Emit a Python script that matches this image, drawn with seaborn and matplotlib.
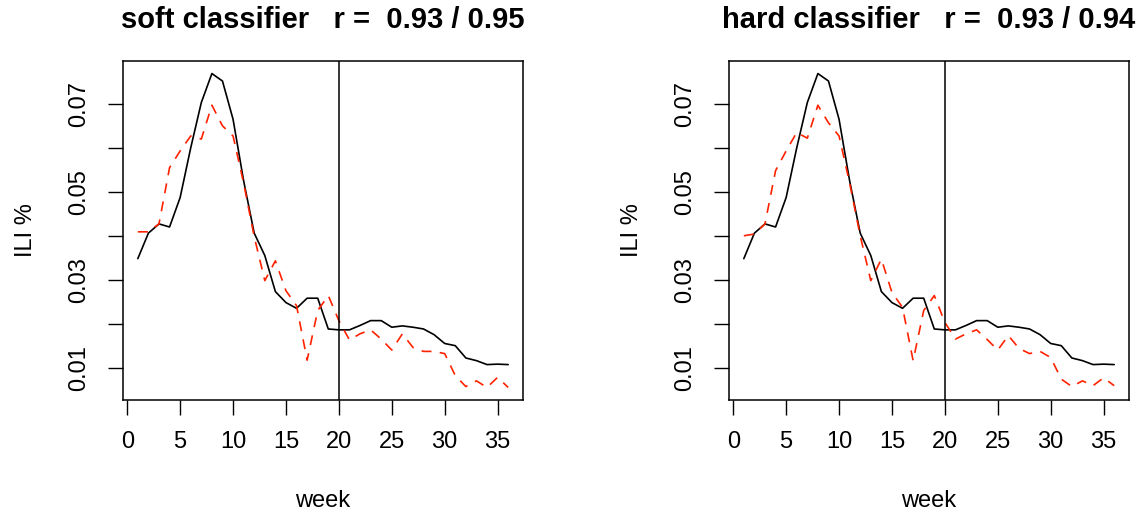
import numpy as np
import matplotlib
matplotlib.use("Agg")
import matplotlib.pyplot as plt
import seaborn as sns

# weekly ILI % : observed vs. predicted by two classifiers
weeks = np.arange(1, 37)
ili_actual = [0.0348, 0.0406, 0.0427, 0.0420, 0.0487, 0.0600, 0.0703, 0.0769, 0.0752,
              0.0665, 0.0525, 0.0406, 0.0355, 0.0273, 0.0248, 0.0235, 0.0258, 0.0258,
              0.0188, 0.0186, 0.0186, 0.0196, 0.0207, 0.0207, 0.0192, 0.0195, 0.0192,
              0.0188, 0.0175, 0.0155, 0.0150, 0.0122, 0.0116, 0.0107, 0.0108, 0.0107]
ili_soft = [0.0409, 0.0409, 0.0427, 0.0555, 0.0593, 0.0627, 0.0620, 0.0697, 0.0650,
            0.0627, 0.0520, 0.0398, 0.0298, 0.0343, 0.0275, 0.0241, 0.0117, 0.0230,
            0.0264, 0.0207, 0.0163, 0.0177, 0.0186, 0.0165, 0.0140, 0.0177, 0.0146,
            0.0137, 0.0137, 0.0132, 0.0082, 0.0057, 0.0070, 0.0055, 0.0078, 0.0055]
ili_hard = [0.0400, 0.0404, 0.0427, 0.0548, 0.0593, 0.0635, 0.0622, 0.0697, 0.0657,
            0.0627, 0.0520, 0.0400, 0.0298, 0.0347, 0.0271, 0.0237, 0.0116, 0.0230,
            0.0264, 0.0203, 0.0165, 0.0177, 0.0186, 0.0164, 0.0140, 0.0173, 0.0144,
            0.0132, 0.0137, 0.0123, 0.0074, 0.0057, 0.0070, 0.0059, 0.0077, 0.0059]
split_week = 20
titles = ["soft classifier   r =  0.93 / 0.95", "hard classifier   r =  0.93 / 0.94"]
x_ticks = [0, 5, 10, 15, 20, 25, 30, 35]
y_ticks = [0.01, 0.02, 0.03, 0.04, 0.05, 0.06, 0.07]
y_tick_labels = ["0.01", "", "0.03", "", "0.05", "", "0.07"]

sns.set_style("ticks")
plt.rcParams['font.family'] = ['Liberation Sans', 'DejaVu Sans']
for key in ["text.color", "axes.labelcolor", "xtick.color", "ytick.color", "axes.edgecolor"]:
    plt.rcParams[key] = "black"

fig = plt.figure(figsize=(11.42, 5.14), dpi=100)
boxes = [[123 / 1142, 114 / 514, 400 / 1142, 339 / 514],
         [729 / 1142, 114 / 514, 400 / 1142, 339 / 514]]

all_vals = ili_actual + ili_soft + ili_hard
ypad = 0.04 * (max(all_vals) - min(all_vals))
xpad = 0.04 * (weeks.max() - weeks.min())

for box, pred, title in zip(boxes, [ili_soft, ili_hard], titles):
    ax = fig.add_axes(box)
    sns.lineplot(x=weeks, y=ili_actual, color="black", linewidth=1.2, ax=ax)
    sns.lineplot(x=weeks, y=pred, color="#ff2200", linewidth=1.2, ax=ax)
    ax.lines[-1].set_dashes((6, 5))
    ax.axvline(split_week, color="black", linewidth=1.1)

    ax.set_xlim(weeks.min() - xpad, weeks.max() + xpad)
    ax.set_ylim(min(all_vals) - ypad, max(all_vals) + ypad)
    ax.set_xticks(x_ticks)
    ax.set_yticks(y_ticks)
    ax.set_yticklabels(y_tick_labels, rotation=90, va="center")
    ax.tick_params(length=11, width=1.0, labelsize=17, color="black")
    ax.tick_params(axis="x", pad=11)
    ax.tick_params(axis="y", pad=13)
    for sp in ax.spines.values():
        sp.set_visible(True)
        sp.set_linewidth(1.1)

    ax.set_xlabel("week", fontsize=17, labelpad=27)
    ax.set_ylabel("ILI %", fontsize=17, labelpad=22)
    ax.set_title(title, fontsize=21, fontweight="bold", pad=24)

fig.savefig("out.png", dpi=100)
